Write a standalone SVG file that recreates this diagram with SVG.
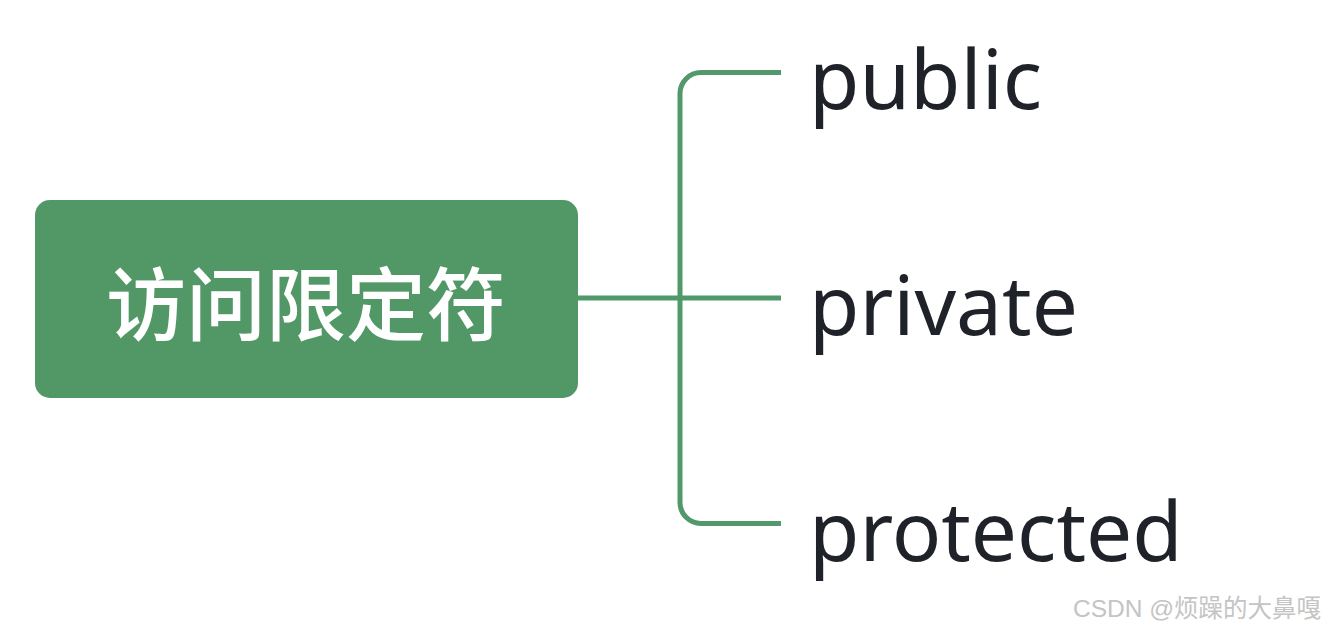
<svg xmlns="http://www.w3.org/2000/svg" width="1326" height="629" viewBox="0 0 1326 629">
<style>
.bg{fill:#ffffff}
.node{fill:#529866}
.root-label{font-family:"Noto Sans CJK SC","Noto Sans",sans-serif;font-weight:500;font-size:80px;fill:#ffffff}
.leaf{font-family:"Noto Sans","Open Sans",sans-serif;font-size:82px;fill:#1f2329}
.conn{fill:none;stroke:#51996a;stroke-width:5;stroke-linecap:butt}
.wm{font-family:"Liberation Sans","Noto Sans CJK SC",sans-serif;font-size:24.5px;fill:#c4c4c4}
</style>
<rect class="bg" x="0" y="0" width="1326" height="629"/>
<g id="connectors">
<path class="conn" d="M578,298 H781"/>
<path class="conn" d="M781,72.5 H701 A21,21 0 0 0 680,93.5 V502.5 A21,21 0 0 0 701,523.5 H781"/>
</g>
<g id="root">
<rect class="node" x="35" y="200" width="543" height="198" rx="15" ry="15"/>
<text class="root-label" x="306" y="334" text-anchor="middle">访问限定符</text>
</g>
<g id="public">
<text class="leaf" x="809" y="109">public</text>
</g>
<g id="private">
<text class="leaf" x="809" y="335">private</text>
</g>
<g id="protected">
<text class="leaf" x="809" y="561">protected</text>
</g>
<text class="wm" x="1073" y="617">CSDN @烦躁的大鼻嘎</text>
</svg>
